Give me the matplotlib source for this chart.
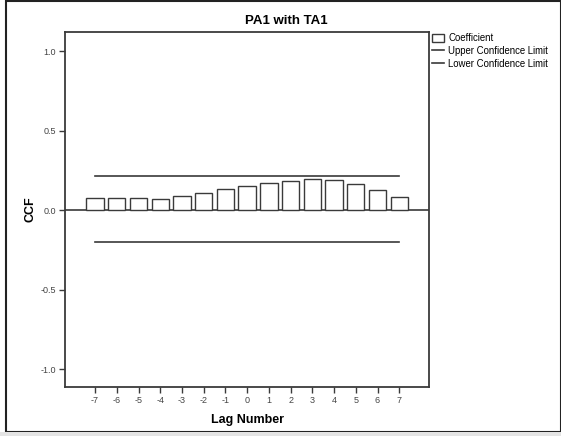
import matplotlib
matplotlib.use('Agg')
import numpy as np
import matplotlib.pyplot as plt
from matplotlib.patches import Patch, Rectangle
from matplotlib.lines import Line2D

lags = [-7, -6, -5, -4, -3, -2, -1, 0, 1, 2, 3, 4, 5, 6, 7]
ccf = [0.074, 0.074, 0.074, 0.069, 0.086, 0.107, 0.130, 0.151,
       0.172, 0.182, 0.198, 0.192, 0.164, 0.126, 0.082]
upper_cl = [0.213] * 15
lower_cl = [-0.200] * 15
yticks = [-1.0, -0.5, 0.0, 0.5, 1.0]

plt.rcParams['font.family'] = ['Liberation Sans', 'DejaVu Sans']
edge = '#3a3a3a'

fig = plt.figure(figsize=(5.61, 4.36), dpi=100)
ax = fig.add_axes([0.1164, 0.1117, 0.6483, 0.8149])

ax.bar(lags, ccf, width=0.8, color='white', edgecolor=edge, linewidth=1.0, zorder=2)
ax.plot(lags, upper_cl, color=edge, lw=1.2, zorder=3)
ax.plot(lags, lower_cl, color=edge, lw=1.2, zorder=3)
ax.axhline(0, color=edge, lw=1.2, zorder=1)

ax.set_xlim(-8.37, 8.37)
ax.set_ylim(-1.115, 1.12)
ax.set_xticks(lags)
ax.set_xticklabels([str(l) for l in lags])
ax.set_yticks(yticks)
ax.set_yticklabels([f"{v:.1f}" for v in yticks])
ax.tick_params(labelsize=6.5, labelcolor='#444444', color=edge, length=4.5, width=1.0, pad=2)

for s in ax.spines.values():
    s.set_color(edge)
    s.set_linewidth(1.3)

ax.set_xlabel("Lag Number", fontsize=9, fontweight='bold', labelpad=6)
ax.set_ylabel("CCF", fontsize=9, fontweight='bold', labelpad=3)
fig.text(286 / 561, 1 - 21 / 436, "PA1 with TA1", ha='center', va='center',
         fontsize=9.5, fontweight='bold')

handles = [Patch(facecolor='white', edgecolor=edge, linewidth=1.0),
           Line2D([], [], color=edge, lw=1.2),
           Line2D([], [], color=edge, lw=1.2)]
labels = ["Coefficient", "Upper Confidence Limit", "Lower Confidence Limit"]
ax.legend(handles, labels, loc='upper left', bbox_to_anchor=(1.004, 1.002),
          frameon=False, fontsize=6.9, handlelength=1.2, handleheight=1.0,
          handletextpad=0.45, labelspacing=0.3, borderaxespad=0.0, borderpad=0.2)

# outer frame of the exported chart
fig.patches.append(Rectangle((6 / 561, 4 / 436), 1 - 6 / 561, 1 - 4 / 436 - 1 / 436,
                             transform=fig.transFigure, fill=False,
                             edgecolor='#222222', linewidth=1.5))
fig.patches.append(Rectangle((0, 0), 1, 4 / 436, transform=fig.transFigure,
                             facecolor='#e4e4e4', edgecolor='none'))

fig.savefig("out.png", dpi=100)
